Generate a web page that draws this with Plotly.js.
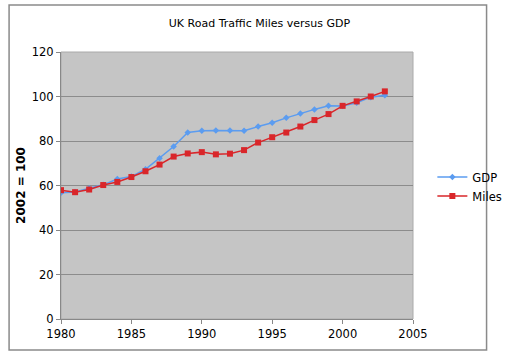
<!DOCTYPE html>
<html><head><meta charset="utf-8">
<script src="https://cdn.plot.ly/plotly-3.0.1.min.js"></script>
<style>html,body{margin:0;padding:0;background:#fff}#chart{width:519px;height:357px}</style>
</head><body><div id="chart"></div>
<script>
const years = [1980,1981,1982,1983,1984,1985,1986,1987,1988,1989,1990,1991,1992,1993,1994,1995,1996,1997,1998,1999,2000,2001,2002,2003];
const gdp = [56.7,57.1,58.8,60.3,62.9,64.0,67.3,72.2,77.5,83.8,84.6,84.7,84.7,84.6,86.5,88.2,90.4,92.4,94.2,95.8,95.7,97.2,99.7,100.6];
const miles = [57.9,57.0,58.2,60.2,61.6,63.8,66.4,69.4,73.0,74.4,75.0,74.0,74.3,75.9,79.3,81.7,83.8,86.5,89.4,92.1,95.8,97.8,100.0,102.3];
const xTicks = [1980,1985,1990,1995,2000,2005];
const yTicks = [0,20,40,60,80,100,120];

const font = "DejaVu Sans, Verdana, sans-serif";
const traces = [
  {x: years, y: gdp, name: 'GDP', type: 'scatter', mode: 'lines+markers',
   line: {color: '#5b9cf0', width: 1.5}, marker: {symbol: 'diamond', size: 5, color: '#5b9cf0'}},
  {x: years, y: miles, name: 'Miles', type: 'scatter', mode: 'lines+markers',
   line: {color: '#d9262a', width: 1.5}, marker: {symbol: 'square', size: 6, color: '#d9262a'}}
];
const layout = {
  width: 519, height: 357,
  margin: {l: 61, r: 85, t: 52, b: 38},
  paper_bgcolor: '#ffffff', plot_bgcolor: '#c5c5c5',
  font: {family: font, size: 11, color: '#000'},
  title: {text: 'UK Road Traffic Miles versus GDP', font: {family: font, size: 11, color: '#000'}, x: 0.5, xanchor: 'center', y: 0.935, yanchor: 'middle'},
  xaxis: {range: [1980, 2005], tickvals: xTicks, ticktext: xTicks.map(String), showgrid: false, zeroline: false,
    showline: true, linecolor: '#888', linewidth: 1, ticks: 'outside', ticklen: 4, tickcolor: '#888',
    tickfont: {family: font, size: 11.5}, fixedrange: true},
  yaxis: {range: [0, 120], tickvals: yTicks, showgrid: true, gridcolor: '#8c8c8c', gridwidth: 1, zeroline: false,
    showline: true, linecolor: '#888', linewidth: 1, ticks: 'outside', ticklen: 4, tickcolor: '#888',
    tickfont: {family: font, size: 11.5},
    title: {text: '<b>2002 = 100</b>', font: {family: font, size: 12}, standoff: 3}, fixedrange: true},
  legend: {x: 1.055, y: 0.496, xanchor: 'left', yanchor: 'middle', bgcolor: 'rgba(0,0,0,0)',
    font: {family: font, size: 11.5}, tracegroupgap: 0, itemwidth: 30},
  showlegend: true,
  shapes: [
    {type: 'rect', xref: 'paper', yref: 'paper', x0: -0.1475, x1: 1.209, y0: -0.116, y1: 1.176,
     line: {color: '#8a8a8a', width: 1.5}, fillcolor: 'rgba(0,0,0,0)', layer: 'below'},
    {type: 'rect', xref: 'paper', yref: 'paper', x0: 0, x1: 1, y0: 0, y1: 1,
     line: {color: '#aaaaaa', width: 1}, fillcolor: 'rgba(0,0,0,0)', layer: 'below'}
  ]
};
Plotly.newPlot('chart', traces, layout, {displayModeBar: false, staticPlot: true});
</script></body></html>
